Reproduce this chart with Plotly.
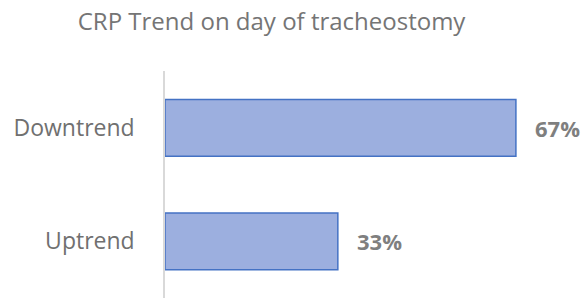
import plotly.graph_objects as go

categories = ["Downtrend", "Uptrend"]
values = [67, 33]
labels = ["67%", "33%"]

fig = go.Figure()
fig.add_trace(go.Bar(
    y=categories, x=values, orientation="h",
    marker=dict(color="#9cafdf", line=dict(color="#4472c4", width=1.5)),
    width=0.5, showlegend=False, hoverinfo="skip",
))
for c, v, t in zip(categories, values, labels):
    fig.add_annotation(x=v, y=c, text=t, showarrow=False, xanchor="left", xshift=17,
                       font=dict(family="Open Sans", size=22, color="#7f7f7f", weight="bold"))

fig.update_layout(
    width=584, height=298,
    margin=dict(l=165, r=0, t=71, b=0),
    paper_bgcolor="white", plot_bgcolor="white",
    title=dict(text="CRP Trend on day of tracheostomy", x=0.465, xanchor="center",
               y=0.926, yanchor="middle",
               font=dict(family="Open Sans", size=24, color="#757575")),
    xaxis=dict(range=[0, 80], visible=False),
    yaxis=dict(autorange="reversed", showline=True, linecolor="#d9d9d9", linewidth=1.5,
               showgrid=False, ticks="", ticklabelstandoff=24, automargin=False,
               tickfont=dict(family="Open Sans", size=23, color="#707070")),
)
fig.write_html("out.html", config={"displayModeBar": False},
               post_script="document.body.style.margin='0';document.body.style.overflow='hidden';")
